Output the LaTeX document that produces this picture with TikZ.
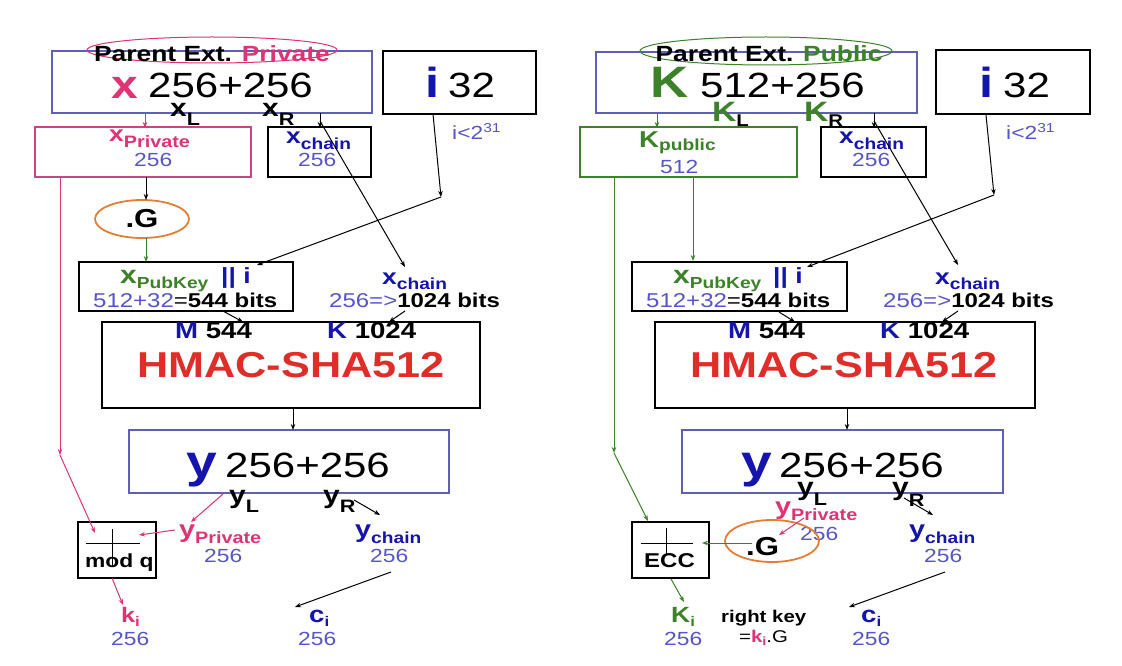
\documentclass[tikz,border=0pt]{standalone}
\usepackage{fontspec}
\usepackage{graphicx}
\setmainfont{Liberation Sans}[FakeStretch=1.2]
\usetikzlibrary{arrows.meta,shapes.geometric}
\definecolor{pk}{RGB}{225,50,115}
\definecolor{pkb}{RGB}{200,70,130}
\definecolor{db}{RGB}{20,20,175}
\definecolor{lb}{RGB}{85,85,205}
\definecolor{bb}{RGB}{95,95,185}
\definecolor{gr}{RGB}{60,130,40}
\definecolor{og}{RGB}{230,125,50}
\definecolor{rd}{RGB}{225,45,40}
\newcommand\fs[1]{\fontsize{#1}{#1}\selectfont}
\newcommand\lo[3]{\raisebox{-#1pt}{\fs{#2}#3}}
\newcommand\boxn[6]{\node[bxs, draw=#2, minimum width={(#5-#3)*1pt}, minimum height={(#6-#4)*1pt}] (#1) at ({(#3+#5)/2},{(#4+#6)/2}) {};}
\tikzset{
  bxs/.style={line width=1.3pt, inner sep=0pt, rectangle},
  tx/.style={inner sep=0pt, anchor=base west},
  arr/.style={-{Stealth[length=6pt,width=4.5pt]}, line width=1pt},
  ell/.style={ellipse, inner sep=0pt},
}
\begin{document}
\begin{tikzpicture}[x=1pt,y=-1pt]
\fill[white] (0,0) rectangle (1122,666);
\useasboundingbox (0,0) rectangle (1122,666);

% ================= LEFT PANEL =================
\boxn{pL}{bb}{52}{51}{372}{113}
\node[ell, draw=pk, line width=1pt, minimum width=250pt, minimum height=26pt] (peL) at (212,50) {};
\node[tx, anchor=base] (tpeL) at (212,62) {\fs{22}\bfseries Parent Ext. \textcolor{pk}{Private}};
\node[tx] (txL) at (111,99) {\fs{40}\bfseries\color{pk}x};
\node[tx] (t256L) at (148,98) {\fs{35}256+256};
\node[tx] (txlL) at (170,117) {\fs{25}\bfseries x\lo{9}{18}{L}};
\node[tx] (txrL) at (262,117) {\fs{25}\bfseries x\lo{9}{18}{R}};

\boxn{xpL}{pkb}{35}{127}{251}{177}
\node[tx] (txpL) at (109,142) {\fs{22}\bfseries\color{pk}x\lo{6}{16.5}{Private}};
\node[tx] (txp2L) at (134,167) {\fs{19}\color{lb}256};
\boxn{xcL}{black}{268}{127}{371}{177}
\node[tx] (txcL) at (286,143) {\fs{22}\bfseries\color{db}x\lo{6}{16}{chain}};
\node[tx] (txc2L) at (298,167) {\fs{19}\color{lb}256};

\boxn{iL}{black}{383}{51}{536}{114}
\node[tx] (tiL) at (425,98) {\fs{42}\bfseries\color{db}i};
\node[tx] (t32L) at (448,98) {\fs{35}32};
\node[tx] (tilimL) at (452,140) {\fs{19}\color{lb}i<2\raisebox{7pt}{\fs{13}31}};

\node[ell, draw=og, line width=1.8pt, minimum width=94pt, minimum height=38pt] (gL) at (142,219) {\fs{26}\bfseries .G};

\boxn{pkL}{black}{79}{262}{293}{311}
\node[tx] (tpkL) at (120,283) {\fs{25}\bfseries\color{gr}x\lo{5}{16}{PubKey}};
\node[tx] (tbarL) at (221,283) {\fs{22}\bfseries\color{db}|| i};
\node[tx] (tpk2L) at (93,307) {\fs{20}\textcolor{lb}{512+32}=\textbf{544 bits}};
\node[tx] (tcfL) at (382,284) {\fs{22}\bfseries\color{db}x\lo{5}{16}{chain}};
\node[tx] (tcf2L) at (329,307) {\fs{20}\textcolor{lb}{256=>}\textbf{1024 bits}};

\boxn{hL}{black}{102}{322}{480}{408}
\node[tx] (tmL) at (175,338) {\fs{23}\bfseries\textcolor{db}{M} 544};
\node[tx] (tkL) at (327,338) {\fs{23}\bfseries\textcolor{db}{K} 1024};
\node[tx, anchor=base] (thL) at (291,377) {\fs{36}\bfseries\color{rd}HMAC-SHA512};

\boxn{yL}{bb}{129}{430}{449}{493}
\node[tx] (tyL) at (186,477) {\fs{46}\bfseries\color{db}y};
\node[tx] (ty2L) at (225,477) {\fs{35}256+256};
\node[tx] (tylL) at (229,503) {\fs{25}\bfseries y\lo{9}{18}{L}};
\node[tx] (tyrL) at (323,503) {\fs{25}\bfseries y\lo{9}{18}{R}};
\node[tx] (typL) at (179,537) {\fs{24}\bfseries\color{pk}y\lo{6}{16.5}{Private}};
\node[tx] (typ2L) at (204,562) {\fs{19}\color{lb}256};
\node[tx] (tycL) at (355,537) {\fs{24}\bfseries\color{db}y\lo{6}{16}{chain}};
\node[tx] (tyc2L) at (370,562) {\fs{19}\color{lb}256};

\boxn{mqL}{black}{78}{522}{156}{578}
\node[tx] (tmq) at (85,567) {\fs{19}\bfseries mod q};
\draw[line width=1pt] (86,543) -- (140,543) (112,529) -- (112,567);

\node[tx] (tkiL) at (121,622) {\fs{21}\bfseries\color{pk}k\lo{4}{14}{i}};
\node[tx] (tki2L) at (111,645) {\fs{19}\color{lb}256};
\node[tx] (tciL) at (309,622) {\fs{23}\bfseries\color{db}c\lo{4}{14}{i}};
\node[tx] (tci2L) at (298,645) {\fs{19}\color{lb}256};

% connectors left
\coordinate (a1) at (145,113); \coordinate (a1e) at (145,128);
\draw[arr, pk] (a1) -- (a1e);
\coordinate (a2) at (320,113); \coordinate (a2e) at (320,128);
\draw[arr] (a2) -- (a2e);
\coordinate (i1) at (433,114); \coordinate (i2) at (441,197); \coordinate (i3) at (257,265);
\draw[arr] (i1) -- (i2); \draw[arr] (i2) -- (i3);
\coordinate (c1) at (320,121); \coordinate (c2) at (405,267);
\draw[arr] (c1) -- (c2);
\coordinate (g1) at (146,177); \coordinate (g1e) at (146,200);
\draw[arr] (g1) -- (g1e);
\coordinate (g2) at (146,238); \coordinate (g2e) at (146,262);
\draw[arr, gr] (g2) -- (g2e);
\coordinate (m1) at (223,311); \coordinate (m1e) at (243,322);
\draw[arr] (m1) -- (m1e);
\coordinate (k1) at (405,311); \coordinate (k1e) at (389,322);
\draw[arr] (k1) -- (k1e);
\coordinate (h1) at (293,408); \coordinate (h1e) at (293,430);
\draw[arr] (h1) -- (h1e);
\coordinate (y1) at (223,494); \coordinate (y1e) at (191,522);
\draw[arr, pk] (y1) -- (y1e);
\coordinate (y2) at (354,500); \coordinate (y2e) at (380,515);
\draw[arr] (y2) -- (y2e);
\coordinate (y3) at (175,530); \coordinate (y3e) at (139,535);
\draw[arr, pk] (y3) -- (y3e);
\coordinate (p1) at (60,177); \coordinate (p2) at (60,455); \coordinate (p3) at (95,533);
\draw[arr, pk] (p1) -- (p2); \draw[arr, pk] (p2) -- (p3);
\coordinate (q1) at (112,578); \coordinate (q1e) at (123,605);
\draw[arr, pk] (q1) -- (q1e);
\coordinate (ch1) at (391,572); \coordinate (ch1e) at (295,607);
\draw[arr] (ch1) -- (ch1e);

% ================= RIGHT PANEL =================
\boxn{pR}{bb}{596}{52}{917}{113}
\node[ell, draw=gr, line width=1pt, minimum width=252pt, minimum height=28pt] (peR) at (766,51) {};
\node[tx, anchor=base] (tpeR) at (769,62) {\fs{22}\bfseries Parent Ext. \textcolor{gr}{Public}};
\node[tx] (tKR) at (650,98) {\fs{44}\bfseries\color{gr}K};
\node[tx] (t512R) at (700,98) {\fs{35}512+256};
\node[tx] (tklR) at (712,122) {\fs{28}\bfseries\textcolor{gr}{K}\lo{5}{17}{L}};
\node[tx] (tkrR) at (804,122) {\fs{28}\bfseries\textcolor{gr}{K}\lo{5}{17}{R}};

\boxn{kpR}{gr}{580}{127}{797}{177}
\node[tx] (tkpR) at (639,148) {\fs{23}\bfseries\color{gr}K\lo{2}{16}{public}};
\node[tx] (tkp2R) at (660,173) {\fs{19}\color{lb}512};
\boxn{xcR}{black}{821}{127}{926}{177}
\node[tx] (txcR) at (839,143) {\fs{22}\bfseries\color{db}x\lo{6}{16}{chain}};
\node[tx] (txc2R) at (852,167) {\fs{19}\color{lb}256};

\boxn{iR}{black}{936}{50}{1090}{114}
\node[tx] (tiR) at (979,98) {\fs{42}\bfseries\color{db}i};
\node[tx] (t32R) at (1003,98) {\fs{35}32};
\node[tx] (tilimR) at (1006,140) {\fs{19}\color{lb}i<2\raisebox{7pt}{\fs{13}31}};

\boxn{pkR}{black}{632}{262}{847}{311}
\node[tx] (tpkR) at (673,283) {\fs{25}\bfseries\color{gr}x\lo{5}{16}{PubKey}};
\node[tx] (tbarR) at (773,283) {\fs{22}\bfseries\color{db}|| i};
\node[tx] (tpk2R) at (646,307) {\fs{20}\textcolor{lb}{512+32}=\textbf{544 bits}};
\node[tx] (tcfR) at (935,284) {\fs{22}\bfseries\color{db}x\lo{5}{16}{chain}};
\node[tx] (tcf2R) at (883,307) {\fs{20}\textcolor{lb}{256=>}\textbf{1024 bits}};

\boxn{hR}{black}{655}{322}{1035}{408}
\node[tx] (tmR) at (728,338) {\fs{23}\bfseries\textcolor{db}{M} 544};
\node[tx] (tkR) at (880,338) {\fs{23}\bfseries\textcolor{db}{K} 1024};
\node[tx, anchor=base] (thR) at (844,377) {\fs{36}\bfseries\color{rd}HMAC-SHA512};

\boxn{yR}{bb}{682}{430}{1003}{493}
\node[tx] (tyR) at (741,477) {\fs{46}\bfseries\color{db}y};
\node[tx] (ty2R) at (779,477) {\fs{35}256+256};
\node[tx] (tylR) at (797,495) {\fs{25}\bfseries y\lo{10}{18}{L}};
\node[tx] (tyrR) at (892,495) {\fs{25}\bfseries y\lo{11}{18}{R}};
\node[tx] (typR) at (775,514) {\fs{24}\bfseries\color{pk}y\lo{6}{16.5}{Private}};
\node[tx] (typ2R) at (800,540) {\fs{19}\color{lb}256};
\node[tx] (tycR) at (909,537) {\fs{24}\bfseries\color{db}y\lo{6}{16}{chain}};
\node[tx] (tyc2R) at (924,562) {\fs{19}\color{lb}256};

\node[ell, draw=og, line width=1.8pt, minimum width=94pt, minimum height=42pt] (gR) at (772,541) {};
\node[tx] (tgR) at (746,555) {\fs{26}\bfseries .G};

\boxn{eccR}{black}{632}{522}{709}{578}
\node[tx] (tecc) at (644,567) {\fs{20}\bfseries ECC};
\draw[line width=1pt] (641,543) -- (693,543) (666,528) -- (666,555);

\node[tx] (tkiR) at (671,622) {\fs{22}\bfseries\color{gr}K\lo{4}{14}{i}};
\node[tx] (tki2R) at (664,645) {\fs{19}\color{lb}256};
\node[tx] (trk) at (721,622) {\fs{17}\bfseries right key};
\node[tx] (trk2) at (739,642) {\fs{17}=\textcolor{pk}{\bfseries k\lo{3}{12}{i}}.G};
\node[tx] (tciR) at (861,622) {\fs{23}\bfseries\color{db}c\lo{4}{14}{i}};
\node[tx] (tci2R) at (852,645) {\fs{19}\color{lb}256};

% connectors right
\coordinate (b1) at (657,113); \coordinate (b1e) at (657,128);
\draw[arr, gr] (b1) -- (b1e);
\coordinate (b2) at (874,113); \coordinate (b2e) at (874,128);
\draw[arr] (b2) -- (b2e);
\coordinate (j1) at (986,115); \coordinate (j2) at (994,195); \coordinate (j3) at (807,267);
\draw[arr] (j1) -- (j2); \draw[arr] (j2) -- (j3);
\coordinate (d1) at (874,121); \coordinate (d2) at (958,265);
\draw[arr] (d1) -- (d2);
\coordinate (e1) at (693,177); \coordinate (e1e) at (693,261);
\draw[arr, gr] (e1) -- (e1e);
\coordinate (f1) at (614,177); \coordinate (f2) at (614,453); \coordinate (f3) at (648,521);
\draw[arr, gr] (f1) -- (f2); \draw[arr, gr] (f2) -- (f3);
\coordinate (n1) at (779,312); \coordinate (n1e) at (795,322);
\draw[arr] (n1) -- (n1e);
\coordinate (o1) at (958,311); \coordinate (o1e) at (942,322);
\draw[arr] (o1) -- (o1e);
\coordinate (hh1) at (847,408); \coordinate (hh1e) at (847,430);
\draw[arr] (hh1) -- (hh1e);
\coordinate (r1) at (904,498); \coordinate (r1e) at (933,515);
\draw[arr] (r1) -- (r1e);
\coordinate (s1) at (804,518); \coordinate (s1e) at (779,535);
\draw[arr, pk] (s1) -- (s1e);
\coordinate (u1) at (752,543); \coordinate (u1e) at (702,543);
\draw[arr, gr] (u1) -- (u1e);
\coordinate (v1) at (671,579); \coordinate (v1e) at (684,602);
\draw[arr, gr] (v1) -- (v1e);
\coordinate (w1) at (945,572); \coordinate (w1e) at (849,607);
\draw[arr] (w1) -- (w1e);
\end{tikzpicture}
\end{document}
